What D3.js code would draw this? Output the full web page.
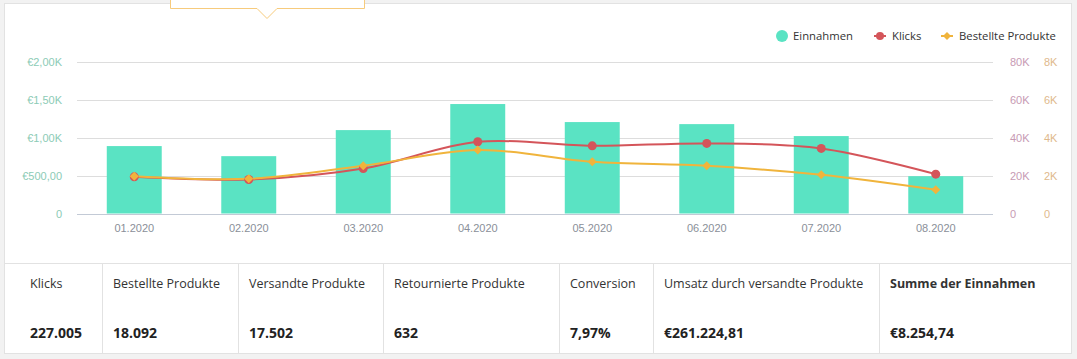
<!DOCTYPE html>
<html>
<head>
<meta charset="utf-8">
<script src="https://cdn.jsdelivr.net/npm/d3@7"></script>
<style>
html,body{margin:0;padding:0;background:#f2f2f2;}
svg{display:block;font-family:"Open Sans","Noto Sans",sans-serif;}
</style>
</head>
<body>
<svg id="c" width="1077" height="359"></svg>
<script>
const months = ["01.2020","02.2020","03.2020","04.2020","05.2020","06.2020","07.2020","08.2020"];
const einnahmen = [890, 757, 1101, 1445, 1207, 1180, 1022, 493];
const klicks = [19350, 17980, 23790, 37860, 35740, 37010, 34370, 20780];
const bestellte = [1970, 1830, 2520, 3350, 2730, 2520, 2040, 1250];
const leftTicks = [0, 500, 1000, 1500, 2000];
const leftTickLabels = ["0", "€500,00", "€1,00K", "€1,50K", "€2,00K"];
const klickTicks = [0, 20000, 40000, 60000, 80000];
const klickTickLabels = ["0", "20K", "40K", "60K", "80K"];
const bestTicks = [0, 2000, 4000, 6000, 8000];
const bestTickLabels = ["0", "2K", "4K", "6K", "8K"];
const legendNames = ["Einnahmen", "Klicks", "Bestellte Produkte"];
const tableHeaders = ["Klicks", "Bestellte Produkte", "Versandte Produkte", "Retournierte Produkte", "Conversion", "Umsatz durch versandte Produkte", "Summe der Einnahmen"];
const tableValues = ["227.005", "18.092", "17.502", "632", "7,97%", "€261.224,81", "€8.254,74"];

const svg = d3.select("#c");

// card
svg.append("rect").attr("x", 4.5).attr("y", 3.5).attr("width", 1067).attr("height", 350)
  .attr("fill", "#fff").attr("stroke", "#e2e2e2");

// tooltip remnant at top
svg.append("path")
  .attr("d", "M170.5,-5 L170.5,8.5 L257,8.5 L267,18.5 L277,8.5 L364.5,8.5 L364.5,-5")
  .attr("fill", "#fff").attr("stroke", "#f7cb7c").attr("stroke-width", 1);

const x0 = 77, x1 = 993, yTop = 62, yBot = 213.5;
const x = d3.scaleBand().domain(months).range([x0, x1]).paddingInner(0.52).paddingOuter(0.26);
const yL = d3.scaleLinear().domain([0, 2000]).range([yBot, yTop]);
const yK = d3.scaleLinear().domain([0, 80000]).range([yBot, yTop]);
const yB = d3.scaleLinear().domain([0, 8000]).range([yBot, yTop]);

// grid
svg.append("g").selectAll("line").data(leftTicks).join("line")
  .attr("x1", x0).attr("x2", x1)
  .attr("y1", d => Math.round(yL(d)) + 0.5).attr("y2", d => Math.round(yL(d)) + 0.5)
  .attr("stroke", d => d === 0 ? "#c3cad6" : "#dddddd").attr("stroke-width", 1);

// left axis labels
const axL = d3.axisLeft(yL).tickValues(leftTicks).tickSize(0).tickPadding(0)
  .tickFormat((d, i) => leftTickLabels[i]);
const gL = svg.append("g").attr("transform", "translate(62,0)").call(axL);
gL.select(".domain").remove();
gL.selectAll("text").attr("fill", "#8ccbb6").style("font-size", "11px").style("font-family", "inherit");

const axK = d3.axisRight(yK).tickValues(klickTicks).tickSize(0).tickPadding(0)
  .tickFormat((d, i) => klickTickLabels[i]);
const gK = svg.append("g").attr("transform", "translate(1010,0)").call(axK);
gK.select(".domain").remove();
gK.selectAll("text").attr("fill", "#c79ab4").style("font-size", "11px").style("font-family", "inherit");

const axB = d3.axisRight(yB).tickValues(bestTicks).tickSize(0).tickPadding(0)
  .tickFormat((d, i) => bestTickLabels[i]);
const gB = svg.append("g").attr("transform", "translate(1044,0)").call(axB);
gB.select(".domain").remove();
gB.selectAll("text").attr("fill", "#e0b98c").style("font-size", "11px").style("font-family", "inherit");

// x axis
const axX = d3.axisBottom(x).tickSize(0).tickPadding(0);
const gX = svg.append("g").attr("transform", "translate(0,224)").call(axX);
gX.select(".domain").remove();
gX.selectAll("text").attr("fill", "#8a8f99").style("font-size", "11px").style("font-family", "inherit");

// bars
svg.append("g").selectAll("rect").data(einnahmen).join("rect")
  .attr("x", (d, i) => x(months[i])).attr("width", x.bandwidth())
  .attr("y", d => yL(d)).attr("height", d => yBot - yL(d))
  .attr("fill", "#5ae3c3");

const cx = i => x(months[i]) + x.bandwidth() / 2;

// lines
const lineK = d3.line().x((d, i) => cx(i)).y(d => yK(d)).curve(d3.curveCatmullRom.alpha(0.5));
const lineB = d3.line().x((d, i) => cx(i)).y(d => yB(d)).curve(d3.curveCatmullRom.alpha(0.5));

svg.append("path").datum(klicks).attr("d", lineK).attr("fill", "none")
  .attr("stroke", "#d4555a").attr("stroke-width", 2);
svg.append("path").datum(bestellte).attr("d", lineB).attr("fill", "none")
  .attr("stroke", "#f0b43c").attr("stroke-width", 2);

svg.append("g").selectAll("circle").data(klicks).join("circle")
  .attr("cx", (d, i) => cx(i)).attr("cy", d => yK(d)).attr("r", 4.5).attr("fill", "#d4555a");
const diamond = (px, py, s) => `M${px},${py - s}L${px + s},${py}L${px},${py + s}L${px - s},${py}Z`;
svg.append("g").selectAll("path").data(bestellte).join("path")
  .attr("d", (d, i) => diamond(cx(i), yB(d), 4.5)).attr("fill", "#f0b43c");

// legend
const lg = svg.append("g").style("font-size", "11.3px").attr("fill", "#333");
lg.append("circle").attr("cx", 782).attr("cy", 36).attr("r", 6).attr("fill", "#5ae3c3");
lg.append("text").attr("x", 793).attr("y", 40).text(legendNames[0]);
lg.append("line").attr("x1", 874).attr("x2", 886).attr("y1", 36).attr("y2", 36).attr("stroke", "#d4555a").attr("stroke-width", 2);
lg.append("circle").attr("cx", 880).attr("cy", 36).attr("r", 4).attr("fill", "#d4555a");
lg.append("text").attr("x", 892).attr("y", 40).text(legendNames[1]);
lg.append("line").attr("x1", 941).attr("x2", 953).attr("y1", 36).attr("y2", 36).attr("stroke", "#f0b43c").attr("stroke-width", 2);
lg.append("path").attr("d", diamond(947, 36, 4)).attr("fill", "#f0b43c");
lg.append("text").attr("x", 959).attr("y", 40).text(legendNames[2]);

// table
const colX = [5, 102, 238, 383, 559, 653, 879, 1072];
svg.append("line").attr("x1", 5).attr("x2", 1072).attr("y1", 263.5).attr("y2", 263.5).attr("stroke", "#e2e2e2");
const tb = svg.append("g");
tb.selectAll("line.sep").data(colX.slice(1, -1)).join("line").attr("class", "sep")
  .attr("x1", d => d + 0.5).attr("x2", d => d + 0.5).attr("y1", 264).attr("y2", 353)
  .attr("stroke", "#e2e2e2");
tb.selectAll("text.h").data(tableHeaders).join("text").attr("class", "h")
  .attr("x", (d, i) => i === 0 ? 30 : colX[i] + 11).attr("y", 288)
  .attr("fill", "#333").style("font-size", "12.5px")
  .style("font-weight", (d, i) => i === 6 ? "700" : "400")
  .text(d => d);
tb.selectAll("text.v").data(tableValues).join("text").attr("class", "v")
  .attr("x", (d, i) => i === 0 ? 30 : colX[i] + 11).attr("y", 338)
  .attr("fill", "#222").style("font-size", "14px").style("font-weight", "700")
  .text(d => d);
</script>
</body>
</html>
